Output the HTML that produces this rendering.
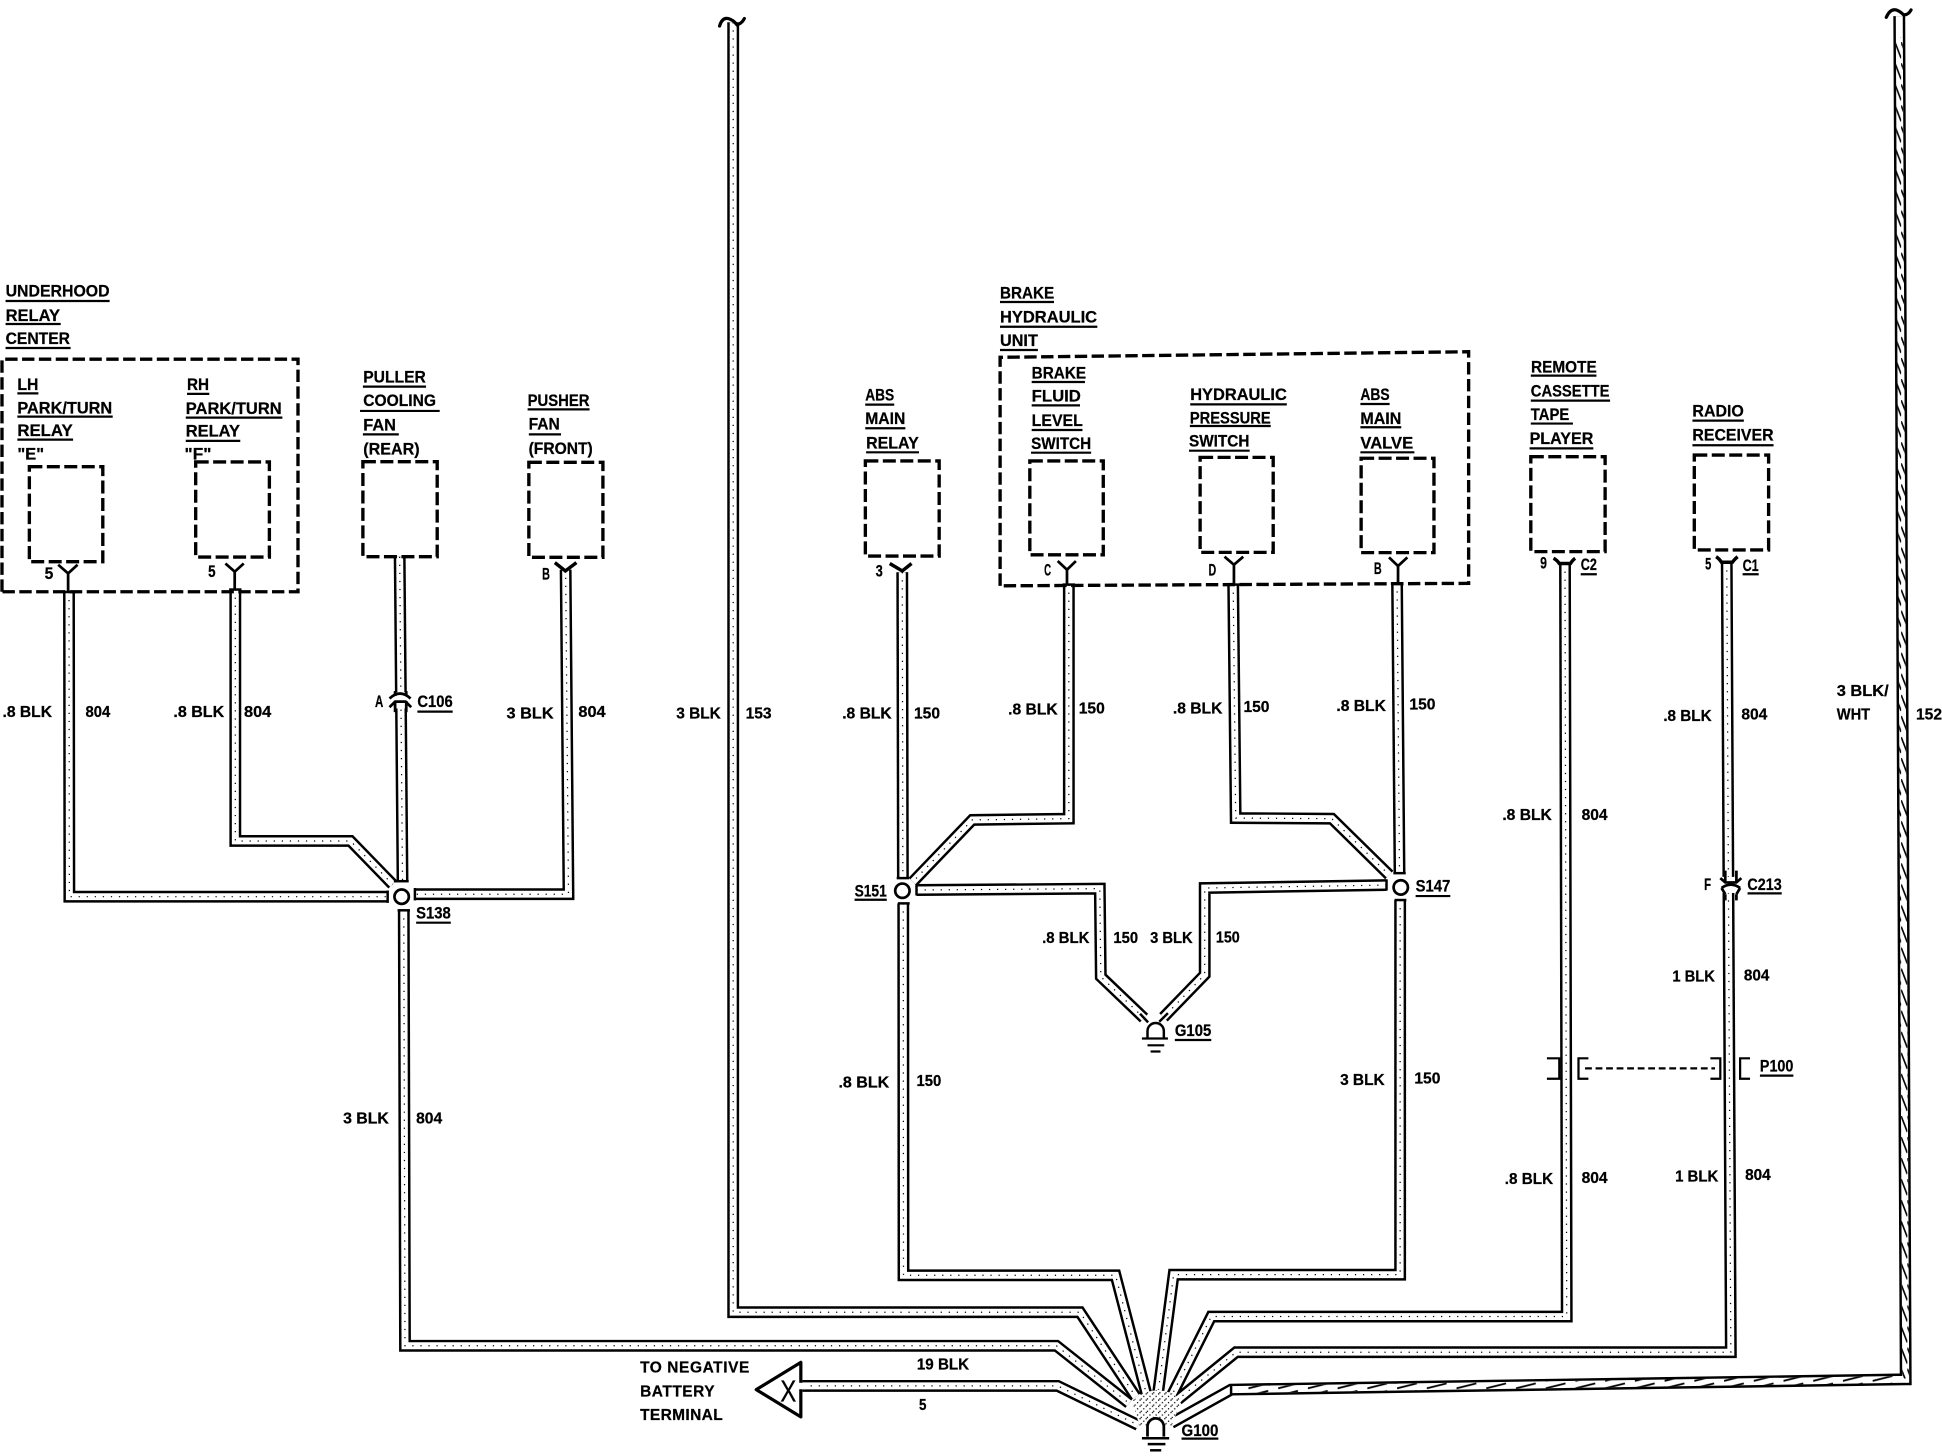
<!DOCTYPE html>
<html><head><meta charset="utf-8"><title>Ground distribution wiring diagram</title>
<style>
html,body{margin:0;padding:0;background:#fff;width:1942px;height:1456px;overflow:hidden}
svg{display:block}
text{font-family:"Liberation Sans",sans-serif;font-weight:700;font-size:13.5px;fill:#000;stroke:#000;stroke-width:.2px}
.s{font-size:12.5px}
</style></head><body>
<svg xmlns="http://www.w3.org/2000/svg" width="1942" height="1456" viewBox="0 0 1568 1175.6">
<defs>
<g id="wires">
<path d="M55.7 478L56 724L313 724"/>
<path d="M190 476L190 679L283 679L317 714"/>
<path d="M322.7 449.5L325 711"/>
<path d="M456.7 460L459 722L335 722"/>
<path d="M326 735L327 1086.6L853 1086.6L911.6 1133"/>
<path d="M728.5 462L729 709"/>
<path d="M863 472L863 661L785 662L737 712"/>
<path d="M995.7 472L997.7 660.5L1075.4 661L1121.7 706.5"/>
<path d="M1128 471L1130 705"/>
<path d="M740 718.6L888 717.5L888.8 788.6L923.7 822"/>
<path d="M1119.5 714.6L972.7 717L972.7 787L939.4 821.4"/>
<path d="M729.3 729.4L729.5 1029.7L900.7 1029.7L925.5 1125"/>
<path d="M1130.5 726.7L1130.5 1029.2L947.6 1029.2L935 1125"/>
<path d="M592 18L592 1059.5L872 1059.5L917 1127.7"/>
<path d="M1263.6 455L1265 1063L978 1063L945.6 1127.7"/>
<path d="M1394.2 454L1397.5 1091.8L998 1091.8L951 1130"/>
<path d="M648 1119L854 1119L919 1150.6"/>
</g>
<pattern id="hv" width="5" height="17" patternUnits="userSpaceOnUse"><path d="M0 0L5 13" stroke="#000" stroke-width="1.3" fill="none"/></pattern>
<pattern id="hh" width="24" height="6" patternUnits="userSpaceOnUse"><path d="M0 5L16 1" stroke="#000" stroke-width="1.5" fill="none"/></pattern>
<pattern id="dots" width="5" height="5" patternUnits="userSpaceOnUse"><rect x="0" y="0" width="1" height="1" fill="#000"/><rect x="3" y="2" width="1" height="1" fill="#000"/><rect x="1" y="4" width="1" height="1" fill="#000"/></pattern>
</defs>
<rect width="1568" height="1175.6" fill="#fff"/>

<!-- wires -->
<use href="#wires" fill="none" stroke="#000" stroke-width="9.6" stroke-linejoin="miter"/>
<use href="#wires" fill="none" stroke="#fff" stroke-width="5.6" stroke-linejoin="miter"/>
<use href="#wires" fill="none" stroke="#000" stroke-width="1" stroke-dasharray="1 5.5"/>

<!-- hatched wire 152 -->
<path d="M1533.5 13L1538.7 1113.7L994 1122L945.6 1149" fill="none" stroke="#000" stroke-width="9.6"/>
<path d="M1533.5 13L1538.7 1113.7L994 1122L945.6 1149" fill="none" stroke="#fff" stroke-width="5.6"/>
<path d="M1533.5 30L1538.7 1113" fill="none" stroke="url(#hv)" stroke-width="5.6"/>
<path d="M1000 1121.9L1535 1113.8" fill="none" stroke="url(#hh)" stroke-width="5.6"/>

<!-- G100 fan blob -->
<path d="M914 1131L925 1124L936 1122L947 1125L954 1131L946 1151L920 1151Z" fill="#fff"/>
<path d="M914 1131L925 1124L936 1122L947 1125L954 1131L946 1151L920 1151Z" fill="url(#dots)"/>

<!-- wire end caps -->
<g stroke="#000" stroke-width="2" fill="none">
<path d="M318 711.5H330"/>
<path d="M321 735H331"/>
<path d="M335 717V727"/>
<path d="M313 719V729"/>
<path d="M724 709H734"/>
<path d="M725 729.4H734.5"/>
<path d="M1125 705H1135"/>
<path d="M1126 726.7H1135.5"/>
<path d="M740 714V723"/>
<path d="M1119.5 710V719"/>
<path d="M994 1118V1126.5"/>
<path d="M920.5 818.5L927 825.5"/>
<path d="M936 825L943 818"/>
<path d="M51 478H61"/>
<path d="M185 476H195"/>
<path d="M858 472H868"/>
<path d="M991 472H1001"/>
<path d="M1123 471H1133"/>
</g>

<!-- dashed boxes -->
<g fill="none" stroke="#000" stroke-width="2.7" stroke-dasharray="10.5 3.6">
<rect x="23.7" y="376.8" width="59.3" height="76.7"/>
<rect x="158" y="373" width="59.5" height="76.8"/>
<rect x="293" y="372.8" width="60" height="76.7"/>
<rect x="427" y="373.3" width="59.8" height="76.7"/>
<rect x="698.7" y="372.2" width="59.6" height="76.8"/>
<rect x="831.5" y="372.2" width="59.3" height="75.8"/>
<rect x="969" y="369.3" width="59" height="76.7"/>
<rect x="1099" y="370" width="58.8" height="76.2"/>
<rect x="1236" y="368.7" width="60" height="76.7"/>
<rect x="1368" y="367.4" width="60" height="76.6"/>
</g>
<g fill="none" stroke="#000" stroke-width="2.7" stroke-dasharray="10 3.6">
<path d="M1.6 477.8V290H240.6V477.8Z"/>
<path d="M807.5 473V288.5L1185.8 284V471Z"/>
</g>

<!-- Y terminals -->
<g fill="none" stroke="#000" stroke-width="2.2">
<path d="M47 456L55 463L62.6 456M55 463V477.7"/>
<path d="M182 455L189.5 461.6L196.8 455M189.5 461.6V476.4"/>
<path d="M854 453L861.5 460L868.7 453M861.5 460V472"/>
<path d="M988.7 449.5L996.3 456L1003.8 449.5M996.3 456V472"/>
<path d="M1121.5 450L1128.8 457L1136.3 450M1128.8 457V471"/>
</g>
<g fill="none" stroke="#000" stroke-width="2.8">
<path d="M448 454.3L456.5 461L465.4 454.3"/>
<path d="M718.4 455L728.5 461L736 455"/>
<path d="M1254.3 450.8Q1257 452 1259 455H1268Q1270 452 1271.8 450.8"/>
<path d="M1385.6 449.5Q1388 451 1390 454H1398.7Q1401 451 1403 449.5"/>
</g>

<!-- splice circles -->
<g fill="#fff" stroke="#000" stroke-width="2.2">
<circle cx="324.3" cy="724" r="5.8"/>
<circle cx="728.6" cy="719.2" r="5.8"/>
<circle cx="1131" cy="716.5" r="5.8"/>
</g>

<!-- inline connectors -->
<g fill="none" stroke="#000" stroke-width="2.2">
<rect x="315" y="559" width="16" height="13" fill="#fff" stroke="none"/>
<path d="M314.5 564Q323 556 331.5 564"/>
<path d="M314.5 571L319 566.5H327.5L332 571"/>
<path d="M319 566V575M328 566V575"/>
<path d="M319 558V562M328 558V562"/>
<rect x="1389.5" y="708" width="16" height="13" fill="#fff" stroke="none"/>
<path d="M1389 709L1393 712.5H1402L1406 709"/>
<path d="M1390 717Q1397.5 711.5 1405 717"/>
<path d="M1390 717L1393 722M1405 717L1402 722"/>
<path d="M1393 722V727M1402 722V727"/>
<path d="M1393 703V712M1402 703V712"/>
</g>

<!-- P100 brackets -->
<g fill="none" stroke="#000" stroke-width="1.8">
<path d="M1249 854.5H1259V871H1249"/>
<path d="M1282.5 854.5H1274.5V871H1282.5"/>
<path d="M1381 854.5H1389V871H1381"/>
<path d="M1413 854.5H1405V871H1413"/>
<path d="M1279.8 862.6H1384.7" stroke-dasharray="5.5 3"/>
</g>

<!-- wire-top squiggles -->
<g fill="none" stroke="#000" stroke-width="2.6" stroke-linecap="round">
<path d="M581 21Q583 14 588 15Q592 16 595 20Q599 19 601 15"/>
<path d="M1523 14Q1526 7 1531 8Q1534 9 1537 12Q1541 12 1543 8"/>
</g>

<!-- arrow -->
<path d="M610.6 1122L646.6 1100V1144Z" fill="#fff" stroke="#000" stroke-width="2.6" stroke-linejoin="round"/>
<rect x="645" y="1116.5" width="5" height="5.2" fill="#fff"/>
<text x="630" y="1131.5" textLength="13" lengthAdjust="spacingAndGlyphs" style="font-size:25px;font-weight:400">X</text>

<!-- ground symbols -->
<g fill="none" stroke="#000">
<path d="M926.5 838V832.5A6.6 6.5 0 0 1 939.7 832.5V838" stroke-width="2"/>
<path d="M922 838.5H943" stroke-width="1.8"/>
<path d="M926.5 844H940" stroke-width="1.8"/>
<path d="M929 849H937" stroke-width="1.8"/>
<path d="M926.5 1160V1152A6.6 6.8 0 0 1 939.7 1152V1160" stroke-width="2.2" fill="#fff"/>
<path d="M922 1161.3H944" stroke-width="2"/>
<path d="M926.7 1166H941" stroke-width="2"/>
<path d="M928.6 1171H937.6" stroke-width="2"/>
</g>

<!-- underlines -->
<path fill="none" stroke="#000" stroke-width="1.8" d="
M4.5 243H88.5M4.5 261.6H49M4.5 281H57
M14 317.6H31M14 336.4H91M14 355H59
M151 318H169M150 337.2H228M150 356H194
M293 312.2H344M290.7 331.8H355M293 350.7H322
M426 330.5H476M427 350.7H453
M807.4 243.8H851M807.4 263.8H886M807.4 282.6H838
M698.6 326.7H722M698.6 345.8H731M699.3 365.2H742
M833 308.4H876M833 327.3H872M833 347.2H874M832.5 365.5H881
M961 326.5H1039M960.7 344H1026M960 363.9H1009
M1098.4 326.2H1122M1098.4 345H1131.4M1098.4 365.2H1142
M1236 303.3H1289M1236 323.5H1300M1236 342H1270M1235 362H1286.5
M1366.5 339.6H1408M1366.5 359.5H1432
M1276.3 463.7H1289.3M1407 463.7H1420
M337 574.6H365.5M336 745H364M690 726.5H716M1143 723.5H1171
M948.6 839.7H978M1411 721.3H1438.6M1421 868.5H1448M954 1161.6H983.7"/>

<!-- component labels -->
<text x="4.5" y="239.5" textLength="84" lengthAdjust="spacingAndGlyphs">UNDERHOOD</text>
<text x="4.5" y="259" textLength="44" lengthAdjust="spacingAndGlyphs">RELAY</text>
<text x="4.5" y="277.8" textLength="52" lengthAdjust="spacingAndGlyphs">CENTER</text>
<text x="14" y="314.9" textLength="17" lengthAdjust="spacingAndGlyphs">LH</text>
<text x="14" y="333.7" textLength="76.6" lengthAdjust="spacingAndGlyphs">PARK/TURN</text>
<text x="14" y="352" textLength="44.7" lengthAdjust="spacingAndGlyphs">RELAY</text>
<text x="14" y="370.9" textLength="21.6" lengthAdjust="spacingAndGlyphs">"E"</text>
<text x="151" y="314.9" textLength="17.8" lengthAdjust="spacingAndGlyphs">RH</text>
<text x="150" y="334.3" textLength="77.4" lengthAdjust="spacingAndGlyphs">PARK/TURN</text>
<text x="150" y="352.6" textLength="43.8" lengthAdjust="spacingAndGlyphs">RELAY</text>
<text x="149" y="371" textLength="21.7" lengthAdjust="spacingAndGlyphs">"F"</text>
<text x="293.3" y="309" textLength="50.5" lengthAdjust="spacingAndGlyphs">PULLER</text>
<text x="293.3" y="327.8" textLength="58.7" lengthAdjust="spacingAndGlyphs">COOLING</text>
<text x="293.3" y="347.7" textLength="26.4" lengthAdjust="spacingAndGlyphs">FAN</text>
<text x="293.3" y="366.8" textLength="45.5" lengthAdjust="spacingAndGlyphs">(REAR)</text>
<text x="426" y="327.8" textLength="50" lengthAdjust="spacingAndGlyphs">PUSHER</text>
<text x="426.8" y="347" textLength="25.2" lengthAdjust="spacingAndGlyphs">FAN</text>
<text x="426.8" y="366.6" textLength="51.8" lengthAdjust="spacingAndGlyphs">(FRONT)</text>
<text x="807.4" y="240.9" textLength="43.8" lengthAdjust="spacingAndGlyphs">BRAKE</text>
<text x="807.4" y="260.3" textLength="78.4" lengthAdjust="spacingAndGlyphs">HYDRAULIC</text>
<text x="807.4" y="279.4" textLength="30.6" lengthAdjust="spacingAndGlyphs">UNIT</text>
<text x="698.6" y="323.5" textLength="23.4" lengthAdjust="spacingAndGlyphs">ABS</text>
<text x="698.6" y="342.3" textLength="32.4" lengthAdjust="spacingAndGlyphs">MAIN</text>
<text x="699.3" y="362" textLength="42.5" lengthAdjust="spacingAndGlyphs">RELAY</text>
<text x="833" y="305.5" textLength="44" lengthAdjust="spacingAndGlyphs">BRAKE</text>
<text x="833" y="324.3" textLength="39.7" lengthAdjust="spacingAndGlyphs">FLUID</text>
<text x="833" y="344" textLength="41.3" lengthAdjust="spacingAndGlyphs">LEVEL</text>
<text x="832.5" y="362.5" textLength="48.5" lengthAdjust="spacingAndGlyphs">SWITCH</text>
<text x="961" y="323" textLength="78" lengthAdjust="spacingAndGlyphs">HYDRAULIC</text>
<text x="960.7" y="341.8" textLength="65.3" lengthAdjust="spacingAndGlyphs">PRESSURE</text>
<text x="960" y="360.6" textLength="48.8" lengthAdjust="spacingAndGlyphs">SWITCH</text>
<text x="1098.4" y="323" textLength="23.6" lengthAdjust="spacingAndGlyphs">ABS</text>
<text x="1098.4" y="342.3" textLength="33" lengthAdjust="spacingAndGlyphs">MAIN</text>
<text x="1098.4" y="362" textLength="42.6" lengthAdjust="spacingAndGlyphs">VALVE</text>
<text x="1236.2" y="300.6" textLength="53" lengthAdjust="spacingAndGlyphs">REMOTE</text>
<text x="1236" y="320.3" textLength="63.5" lengthAdjust="spacingAndGlyphs">CASSETTE</text>
<text x="1236" y="339" textLength="31" lengthAdjust="spacingAndGlyphs">TAPE</text>
<text x="1235" y="358.5" textLength="51.5" lengthAdjust="spacingAndGlyphs">PLAYER</text>
<text x="1366.5" y="336.4" textLength="41.5" lengthAdjust="spacingAndGlyphs">RADIO</text>
<text x="1366.5" y="355.8" textLength="65.5" lengthAdjust="spacingAndGlyphs">RECEIVER</text>

<!-- terminal labels -->
<text x="36" y="467.5" textLength="7" lengthAdjust="spacingAndGlyphs">5</text>
<text x="168" y="466" textLength="6" lengthAdjust="spacingAndGlyphs">5</text>
<text x="437.7" y="467.8" textLength="6.3" lengthAdjust="spacingAndGlyphs">B</text>
<text x="707" y="465.6" textLength="5.8" lengthAdjust="spacingAndGlyphs">3</text>
<text x="843" y="464.8" textLength="5.6" lengthAdjust="spacingAndGlyphs">C</text>
<text x="975.8" y="464.8" textLength="6.2" lengthAdjust="spacingAndGlyphs">D</text>
<text x="1109.3" y="463.5" textLength="6.3" lengthAdjust="spacingAndGlyphs">B</text>
<text x="1243.5" y="458.9" textLength="5.5" lengthAdjust="spacingAndGlyphs">9</text>
<text x="1276.3" y="460.2" textLength="13" lengthAdjust="spacingAndGlyphs">C2</text>
<text x="1376.7" y="459.7" textLength="5" lengthAdjust="spacingAndGlyphs">5</text>
<text x="1407" y="461" textLength="13" lengthAdjust="spacingAndGlyphs">C1</text>
<text x="302.8" y="571" textLength="6.7" lengthAdjust="spacingAndGlyphs">A</text>
<text x="337" y="571" textLength="28.5" lengthAdjust="spacingAndGlyphs">C106</text>
<text x="336" y="741.5" textLength="28" lengthAdjust="spacingAndGlyphs">S138</text>
<text x="690" y="724" textLength="26" lengthAdjust="spacingAndGlyphs">S151</text>
<text x="1143" y="720" textLength="28" lengthAdjust="spacingAndGlyphs">S147</text>
<text x="948.6" y="836.5" textLength="29.4" lengthAdjust="spacingAndGlyphs">G105</text>
<text x="954" y="1159.5" textLength="29.7" lengthAdjust="spacingAndGlyphs">G100</text>
<text x="1375.9" y="718.6" textLength="5.6" lengthAdjust="spacingAndGlyphs">F</text>
<text x="1410.9" y="718.6" textLength="27.7" lengthAdjust="spacingAndGlyphs">C213</text>
<text x="1421" y="865.3" textLength="27" lengthAdjust="spacingAndGlyphs">P100</text>

<!-- wire labels -->
<g>
<text class="s" x="2" y="579" textLength="40" lengthAdjust="spacingAndGlyphs">.8 BLK</text>
<text class="s" x="69" y="579" textLength="20" lengthAdjust="spacingAndGlyphs">804</text>
<text class="s" x="140" y="579" textLength="41" lengthAdjust="spacingAndGlyphs">.8 BLK</text>
<text class="s" x="197" y="579" textLength="22" lengthAdjust="spacingAndGlyphs">804</text>
<text class="s" x="409" y="580" textLength="38" lengthAdjust="spacingAndGlyphs">3 BLK</text>
<text class="s" x="467" y="579" textLength="22" lengthAdjust="spacingAndGlyphs">804</text>
<text class="s" x="546" y="580" textLength="36" lengthAdjust="spacingAndGlyphs">3 BLK</text>
<text class="s" x="602" y="580" textLength="21" lengthAdjust="spacingAndGlyphs">153</text>
<text class="s" x="680" y="580" textLength="40" lengthAdjust="spacingAndGlyphs">.8 BLK</text>
<text class="s" x="738" y="580" textLength="21" lengthAdjust="spacingAndGlyphs">150</text>
<text class="s" x="814" y="577" textLength="40" lengthAdjust="spacingAndGlyphs">.8 BLK</text>
<text class="s" x="871" y="576" textLength="21" lengthAdjust="spacingAndGlyphs">150</text>
<text class="s" x="947" y="576" textLength="40" lengthAdjust="spacingAndGlyphs">.8 BLK</text>
<text class="s" x="1004" y="575" textLength="21" lengthAdjust="spacingAndGlyphs">150</text>
<text class="s" x="1079" y="574" textLength="40" lengthAdjust="spacingAndGlyphs">.8 BLK</text>
<text class="s" x="1138" y="573" textLength="21" lengthAdjust="spacingAndGlyphs">150</text>
<text class="s" x="1343" y="582" textLength="39" lengthAdjust="spacingAndGlyphs">.8 BLK</text>
<text class="s" x="1406" y="581" textLength="21" lengthAdjust="spacingAndGlyphs">804</text>
<text class="s" x="1483" y="562" textLength="42" lengthAdjust="spacingAndGlyphs">3 BLK/</text>
<text class="s" x="1483" y="581" textLength="27" lengthAdjust="spacingAndGlyphs">WHT</text>
<text class="s" x="1547" y="581" textLength="21" lengthAdjust="spacingAndGlyphs">152</text>
<text class="s" x="1213" y="662" textLength="40" lengthAdjust="spacingAndGlyphs">.8 BLK</text>
<text class="s" x="1277" y="662" textLength="21" lengthAdjust="spacingAndGlyphs">804</text>
<text class="s" x="841.4" y="761.6" textLength="38.2" lengthAdjust="spacingAndGlyphs">.8 BLK</text>
<text class="s" x="899" y="761.6" textLength="20" lengthAdjust="spacingAndGlyphs">150</text>
<text class="s" x="928.6" y="761.6" textLength="34.4" lengthAdjust="spacingAndGlyphs">3 BLK</text>
<text class="s" x="981.7" y="761" textLength="19.3" lengthAdjust="spacingAndGlyphs">150</text>
<text class="s" x="677" y="878" textLength="41" lengthAdjust="spacingAndGlyphs">.8 BLK</text>
<text class="s" x="740" y="877" textLength="20" lengthAdjust="spacingAndGlyphs">150</text>
<text class="s" x="1082" y="876" textLength="36" lengthAdjust="spacingAndGlyphs">3 BLK</text>
<text class="s" x="1142" y="875" textLength="21" lengthAdjust="spacingAndGlyphs">150</text>
<text class="s" x="277" y="907" textLength="37" lengthAdjust="spacingAndGlyphs">3 BLK</text>
<text class="s" x="336" y="907" textLength="21" lengthAdjust="spacingAndGlyphs">804</text>
<text class="s" x="1350.3" y="792.6" textLength="34.4" lengthAdjust="spacingAndGlyphs">1 BLK</text>
<text class="s" x="1408" y="791.8" textLength="20.6" lengthAdjust="spacingAndGlyphs">804</text>
<text class="s" x="1215" y="956" textLength="39" lengthAdjust="spacingAndGlyphs">.8 BLK</text>
<text class="s" x="1277" y="955" textLength="21" lengthAdjust="spacingAndGlyphs">804</text>
<text class="s" x="1352.5" y="954" textLength="34.9" lengthAdjust="spacingAndGlyphs">1 BLK</text>
<text class="s" x="1409" y="952.8" textLength="20.7" lengthAdjust="spacingAndGlyphs">804</text>
<text class="s" x="740.3" y="1105.6" textLength="42.2" lengthAdjust="spacingAndGlyphs">19 BLK</text>
<text class="s" x="742" y="1138.5" textLength="6" lengthAdjust="spacingAndGlyphs">5</text>
</g>

<!-- battery label -->
<text class="s" x="516.8" y="1108" textLength="88.2" lengthAdjust="spacing">TO NEGATIVE</text>
<text class="s" x="516.8" y="1127.7" textLength="60.2" lengthAdjust="spacing">BATTERY</text>
<text class="s" x="516.8" y="1146.5" textLength="66.7" lengthAdjust="spacing">TERMINAL</text>
</svg>
</body></html>
